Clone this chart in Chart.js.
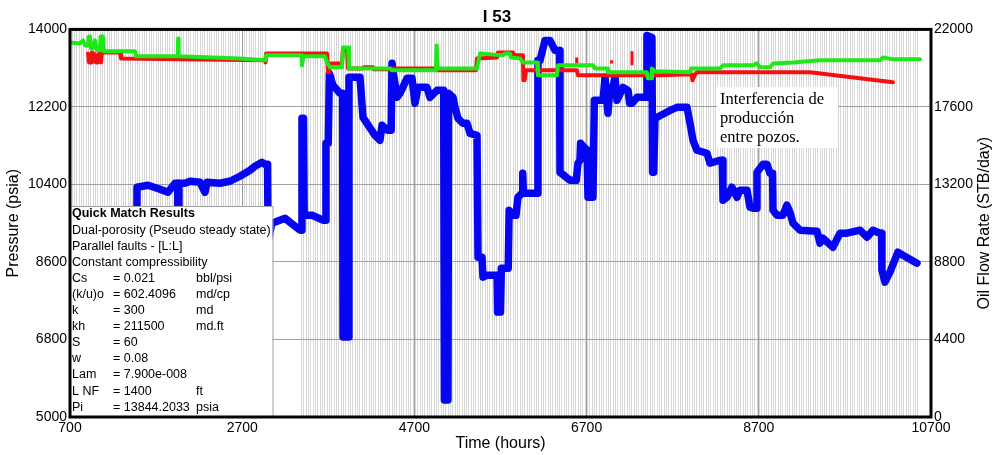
<!DOCTYPE html>
<html>
<head>
<meta charset="utf-8">
<script src="https://cdn.jsdelivr.net/npm/chart.js@4.4.0/dist/chart.umd.min.js"></script>
<style>
  html, body { margin: 0; padding: 0; background: #fff; }
  #wrap { width: 994px; height: 455px; }
</style>
</head>
<body>
<div id="wrap"><canvas id="c" width="994" height="455"></canvas></div>
<script>
// Axis ticks
const timeTicks = [700, 2700, 4700, 6700, 8700, 10700];
const pressureTicks = [5000, 6800, 8600, 10400, 12200, 14000];
const rateTicks = [0, 4400, 8800, 13200, 17600, 22000];

// Oil flow rate history [hours, STB/day]
const oilRate = [
  [700,0],[1470,0],[1478,13041],[1606,13154],[1745,12928],[1838,12758],[1919,13268],[1950,13268],[1954,0],[1962,0],
  [1966,13268],[2036,13268],[2094,13381],[2210,13325],[2268,12758],[2291,13325],[2442,13268],[2558,13381],[2674,13665],
  [2791,14005],[2849,14232],[2930,14459],[2965,14345],[2995,14345],[3000,9979],[3046,11000],[3197,11283],[3255,11057],
  [3371,10603],[3388,10603],[3394,16953],[3412,16953],[3420,11453],[3511,11453],[3638,11170],[3662,11170],[3673,15536],
  [3700,15536],[3712,19505],[3754,18824],[3836,18371],[3866,18371],[3871,4536],[3929,4536],[3940,19278],[4068,19278],
  [4103,17010],[4242,15989],[4300,15706],[4324,16556],[4393,16273],[4430,16273],[4440,20072],[4463,19278],[4498,18144],
  [4533,18371],[4614,19221],[4672,19221],[4707,17804],[4742,18711],[4846,18711],[4881,18144],[4962,18541],[5040,18541],
  [5048,964],[5090,964],[5097,18371],[5148,18144],[5171,17577],[5206,16953],[5264,16670],[5311,16670],[5346,16103],
  [5427,15989],[5439,9072],[5485,9072],[5497,7938],[5543,8051],[5660,8051],[5666,5954],[5700,5954],[5710,8448],
  [5790,8448],[5800,11737],[5845,11453],[5880,11453],[5903,12474],[5950,12701],[5958,13835],[5966,12701],[6124,12701],
  [6135,20242],[6159,20242],[6217,21376],[6275,21376],[6333,20809],[6385,20809],[6391,13892],[6507,13438],[6580,13438],
  [6600,14402],[6623,14572],[6630,15536],[6705,15139],[6716,12474],[6774,12474],[6790,17974],[6891,17974],[6914,19278],
  [6948,17237],[6972,18711],[7007,18711],[7030,19278],[7053,17974],[7123,18711],[7181,18541],[7200,17804],[7227,17804],
  [7285,18144],[7390,18144],[7401,21659],[7459,21546],[7466,13892],[7480,13892],[7494,16953],[7552,17100],[7668,17400],
  [7750,17577],[7866,17577],[7901,16670],[7936,15706],[7982,15139],[8098,14969],[8133,14402],[8249,14572],[8276,14572],
  [8284,12304],[8330,12474],[8388,13041],[8447,12474],[8481,12871],[8563,12871],[8598,11907],[8633,11850],[8670,11850],
  [8679,13892],[8749,14345],[8795,14345],[8830,13835],[8860,13835],[8865,11737],[8911,11453],[8981,11453],[9027,12020],
  [9062,11624],[9097,10999],[9178,10603],[9376,10546],[9410,9866],[9445,10150],[9561,9639],[9643,10433],[9724,10433],
  [9875,10603],[9956,10206],[10026,10603],[10107,10433],[10125,10433],[10130,8335],[10165,7655],[10223,8222],
  [10316,9356],[10374,9185],[10456,8959],[10537,8732]
];

// Measured gauge pressure [hours, psia]
const measuredPressure = [
  [909,13443],[920,13234],[944,13234],[955,13466],[990,13420],[1000,13234],[1025,13234],[1037,13443],[1060,13234],
  [1072,13466],[1281,13466],[1292,13327],[2965,13281],[2971,13234],[2977,13443],[3685,13443],[3697,13003],[3708,13211],
  [3859,13211],[3871,13559],[3917,13559],[3929,13095],[4103,13095],[4114,13119],[4219,13119],[4231,13072],[4417,13072],
  [4428,13095],[4939,13095],[4962,13049],[5415,13049],[5427,13327],[5660,13350],[5671,13466],[5845,13466],[5857,13397],
  [5961,13397],[5966,12817],[5980,12817],[5996,13049],[6588,13049],[6600,12933],[7552,12933],[7901,12956],[7920,12956],
  [7930,12817],[7960,12956],[7982,13003],[9294,13003],[10258,12771]
];

// Isolated gauge readings [hours, high psia, low psia]
const pressureFlags = [[6585,13350,13211],[6990,13281,13211],[7227,13490,13165]];

// Simulated pressure from the match [hours, psia]
const modelPressure = [
  [700,13698],[816,13675],[851,13745],[874,13629],[909,13629],[920,13838],[932,13838],[944,13559],[967,13559],
  [990,13745],[1014,13513],[1048,13513],[1055,13838],[1083,13838],[1094,13490],[1455,13490],[1467,13374],[1952,13374],
  [1956,13791],[1962,13374],[2674,13327],[2965,13281],[2977,13397],[3388,13397],[3394,13165],[3412,13374],[3662,13374],
  [3685,13234],[3720,13119],[3859,13119],[3871,13582],[3929,13582],[3940,13095],[4417,13095],[4440,13049],[4950,13049],
  [4958,13629],[4968,13095],[5427,13095],[5462,13443],[5729,13397],[5752,13443],[5810,13443],[5822,13350],[5926,13327],
  [5961,13234],[6124,13234],[6135,12933],[6356,12933],[6368,13165],[6774,13165],[6797,13095],[6937,13095],[6948,13003],
  [7401,13003],[7413,12863],[7448,12863],[7459,13095],[7494,13026],[7901,13003],[7913,13095],[8249,13095],[8284,13165],
  [8633,13165],[8679,13211],[8714,13119],[8830,13119],[8865,13211],[9097,13234],[9410,13281],[10107,13281],
  [10142,13350],[10258,13304],[10572,13304]
];

// Periods with recorded samples (fine vertical grid) and sample spacing in hours
const sampleSpans = [[700, 2990], [3390, 10570]];
const sampleStep = 27;

// Match summary text
const matchTitle = 'Quick Match Results';
const matchModel = ['Dual-porosity (Pseudo steady state)', 'Parallel faults - [L:L]', 'Constant compressibility'];
const matchParams = [
  ['Cs', '= 0.021', 'bbl/psi'],
  ['(k/u)o', '= 602.4096', 'md/cp'],
  ['k', '= 300', 'md'],
  ['kh', '= 211500', 'md.ft'],
  ['S', '= 60', ''],
  ['w', '= 0.08', ''],
  ['Lam', '= 7.900e-008', ''],
  ['L NF', '= 1400', 'ft'],
  ['Pi', '= 13844.2033', 'psia']
];
const noteLines = ['Interferencia de', 'producción', 'entre pozos.'];

const SANS = '"Liberation Sans", Arial, sans-serif';
const SERIF = '"Liberation Serif", "Times New Roman", serif';

const toXY = arr => arr.map(([x, y]) => ({ x, y }));
const flagPoints = [];
pressureFlags.forEach(([t, hi, lo]) => {
  flagPoints.push({ x: t, y: hi }, { x: t, y: lo }, { x: t + 1, y: null });
});
const fixedTicks = list => scale => { scale.ticks = list.map(v => ({ value: v })); };

const overlays = {
  id: 'overlays',
  afterDatasetsDraw(chart) {
    const ctx = chart.ctx;
    const { left, top, right, bottom } = chart.chartArea;
    ctx.save();

    // match summary box
    const bx = left, by = 206.5, bw = 202.5;
    ctx.fillStyle = '#fff';
    ctx.fillRect(bx, by, bw, bottom - by);
    ctx.strokeStyle = '#a0a0a0';
    ctx.lineWidth = 1;
    ctx.strokeRect(bx + 0.5, by, bw, bottom - by);
    ctx.fillStyle = '#000';
    ctx.textBaseline = 'middle';
    ctx.textAlign = 'left';
    const lh = 16.1;
    let y = 214;
    ctx.font = 'bold 12.5px ' + SANS;
    ctx.fillText(matchTitle, left + 2, y);
    ctx.font = '12.5px ' + SANS;
    matchModel.forEach(s => { y += lh; ctx.fillText(s, left + 2, y); });
    matchParams.forEach(([a, b, c]) => {
      y += lh;
      ctx.fillText(a, left + 2, y);
      ctx.fillText(b, left + 43, y);
      if (c) ctx.fillText(c, left + 126, y);
    });

    // annotation note
    ctx.fillStyle = '#fff';
    ctx.fillRect(717, 87, 121, 61);
    ctx.fillStyle = '#000';
    ctx.font = '16.5px ' + SERIF;
    noteLines.forEach((s, i) => ctx.fillText(s, 720, 100 + i * 19));

    // right axis title
    ctx.save();
    ctx.translate(985, (top + bottom) / 2);
    ctx.rotate(-Math.PI / 2);
    ctx.textAlign = 'center';
    ctx.font = '16px ' + SANS;
    ctx.fillText('Oil Flow Rate (STB/day)', 0, 0);
    ctx.restore();

    // plot frame
    ctx.strokeStyle = '#000';
    ctx.lineWidth = 3;
    ctx.strokeRect(left, top, right - left, bottom - top);
    ctx.restore();
  }
};

Chart.defaults.font.family = SANS;
Chart.defaults.color = '#000';

new Chart(document.getElementById('c'), {
  type: 'line',
  data: {
    datasets: [
      {
        label: 'Simulated pressure', data: toXY(modelPressure), yAxisID: 'y', xAxisID: 'x',
        borderColor: '#1ee81a', borderWidth: 4, pointRadius: 0, order: 0,
        borderJoinStyle: 'round', borderCapStyle: 'round'
      },
      {
        label: 'Pressure', data: toXY(measuredPressure), yAxisID: 'y', xAxisID: 'x',
        borderColor: '#f21010', borderWidth: 4, pointRadius: 0, order: 1,
        borderJoinStyle: 'round', borderCapStyle: 'round'
      },
      {
        label: 'Pressure readings', data: flagPoints, yAxisID: 'y', xAxisID: 'x', spanGaps: false,
        borderColor: '#f21010', borderWidth: 3, pointRadius: 0, order: 1
      },
      {
        label: 'Oil rate', data: toXY(oilRate), yAxisID: 'yr', xAxisID: 'x',
        borderColor: '#0505f2', borderWidth: 7.5, pointRadius: 0, order: 2,
        borderJoinStyle: 'round', borderCapStyle: 'round'
      }
    ]
  },
  options: {
    responsive: false,
    devicePixelRatio: 1,
    animation: false,
    layout: { padding: 0 },
    plugins: {
      legend: { display: false },
      tooltip: { enabled: false },
      title: {
        display: true, text: 'I 53', color: '#000',
        font: { size: 17, weight: 'bold' }, padding: { top: 7, bottom: 2 }
      }
    },
    scales: {
      x: {
        type: 'linear', position: 'bottom', min: 700, max: 10700,
        afterBuildTicks: fixedTicks(timeTicks),
        afterFit: s => { s.height = 38; },
        ticks: { padding: 3, font: { size: 14 }, maxRotation: 0, autoSkip: false, callback: v => String(v) },
        grid: { color: '#a0a0a0', drawTicks: false },
        border: { display: false },
        title: { display: true, text: 'Time (hours)', font: { size: 16 }, padding: { top: 0, bottom: 2 } }
      },
      xs: {
        type: 'linear', position: 'bottom', min: 700, max: 10700,
        afterBuildTicks: s => {
          const t = [];
          sampleSpans.forEach(([a, b]) => { for (let v = a; v <= b; v += sampleStep) t.push({ value: v }); });
          s.ticks = t;
        },
        afterFit: s => { s.height = 0; },
        ticks: { display: false },
        grid: { color: 'rgba(120,120,120,0.6)', drawTicks: false },
        border: { display: false, dash: [1, 1] }
      },
      y: {
        type: 'linear', position: 'left', min: 5000, max: 14000,
        afterBuildTicks: fixedTicks(pressureTicks),
        afterFit: s => { s.width = 70; },
        ticks: { padding: 3, font: { size: 14 }, callback: v => String(v) },
        grid: { color: '#a0a0a0', drawTicks: false },
        border: { display: false },
        title: { display: true, text: 'Pressure (psia)', font: { size: 16 }, padding: { top: 4, bottom: 4 } }
      },
      yr: {
        type: 'linear', position: 'right', min: 0, max: 22000,
        afterBuildTicks: fixedTicks(rateTicks),
        afterFit: s => { s.width = 63; },
        ticks: { padding: 3, font: { size: 14 }, callback: v => String(v) },
        grid: { drawOnChartArea: false, drawTicks: false },
        border: { display: false }
      }
    }
  },
  plugins: [overlays]
});
</script>
</body>
</html>
